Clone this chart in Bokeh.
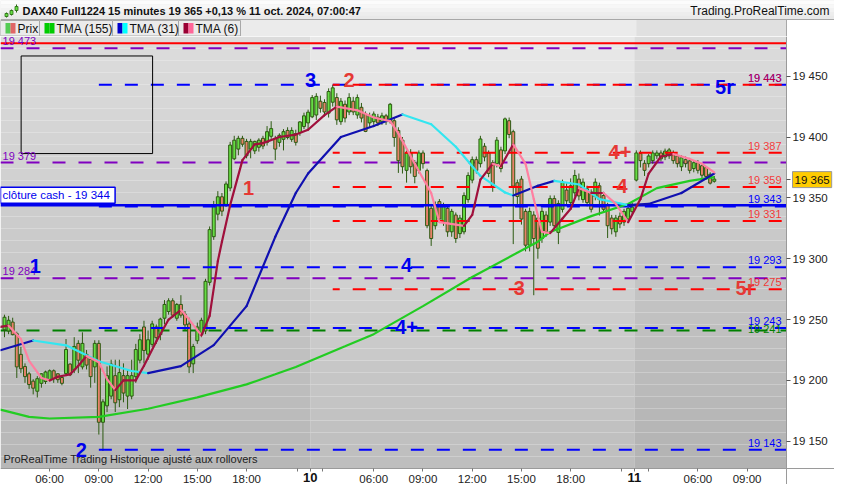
from bokeh.plotting import figure
from bokeh.models import Range1d, LinearAxis, FixedTicker, Label
from bokeh.layouts import column
from bokeh.embed import file_html
from bokeh.resources import INLINE
from bokeh.core.properties import value

FN = "Liberation Sans"
FONT = value(FN)

# ---------------- data ----------------
# bar index: 06:00 on day 9 = 0 ; 15-minute bars, sessions joined
d9_first_bar = -11
d9_open = [19242, 19241, 19247.5, 19238, 19221, 19211, 19205, 19199, 19191.5, 19198, 19199.5,
           19201, 19207.5, 19205, 19202, 19206, 19213, 19209, 19230, 19211.5, 19221, 19217, 19211.5,
           19230, 19166, 19179.5, 19187.5, 19203.5, 19184.5, 19203.5, 19187.5, 19187.5, 19203.5, 19217, 19243.5,
           19222, 19230, 19243.5, 19238, 19251.5, 19257, 19265, 19251.5, 19262, 19254, 19246, 19214,
           19233, 19238, 19241, 19281, 19318.5, 19337, 19350.5, 19345, 19358.5, 19382.5, 19390.5,
           19398.5, 19396, 19390.5, 19389, 19392, 19398.5, 19396, 19401,
           19398.5, 19396, 19398.5, 19405, 19398.5, 19402.5, 19404, 19409, 19412]
d9_high = [19254, 19253, 19251.5, 19240, 19227.5, 19214, 19207, 19201, 19203.5, 19206, 19208,
           19209, 19209, 19206, 19204, 19234, 19214, 19235.5, 19233, 19239.5, 19225, 19219.5, 19233,
           19233, 19184.5, 19211.5, 19217, 19217, 19217, 19214, 19209, 19217, 19230, 19238, 19249,
           19241, 19249, 19246, 19251.5, 19266, 19267.5, 19267.5, 19263.5, 19270, 19257, 19251.5, 19230,
           19247.5, 19251.5, 19283.5, 19326.5, 19347.5, 19355.5, 19354, 19363.5, 19396, 19401, 19401,
           19401, 19398.5, 19398.5, 19397, 19399, 19401, 19409, 19413,
           19401, 19403, 19406.5, 19408, 19408, 19406, 19413, 19420, 19422.5]
d9_low = [19235.5, 19238, 19237, 19202, 19206, 19198, 19193, 19188.5, 19186, 19194, 19197,
          19199, 19198, 19198, 19196, 19203.5, 19203.5, 19206, 19206, 19209, 19209, 19194, 19198,
          19155.5, 19142, 19174, 19184.5, 19174, 19178, 19182, 19176.5, 19184.5, 19198, 19214, 19214,
          19217, 19227.5, 19230, 19233, 19246, 19254, 19251.5, 19249, 19251.5, 19241, 19206, 19206,
          19230, 19235.5, 19238, 19278, 19315.5, 19331.5, 19335, 19342.5, 19355.5, 19381, 19385,
          19392, 19382.5, 19382.5, 19386, 19388, 19390, 19393, 19398.5,
          19381, 19392, 19389, 19398, 19396, 19393, 19401, 19406.5, 19406.5]
d9_close = [19251.5, 19249, 19238, 19211.5, 19210, 19203.5, 19197, 19194, 19201, 19205, 19206.5,
            19207.5, 19202, 19201, 19198, 19225, 19205, 19227.5, 19217, 19230, 19213, 19203.5, 19230,
            19166, 19182, 19203.5, 19213, 19182, 19206, 19190, 19203.5, 19203.5, 19225, 19233, 19225,
            19233, 19246, 19235.5, 19250, 19262, 19265, 19254, 19262, 19254, 19246, 19211.5, 19227.5,
            19243.5, 19249, 19281, 19323.5, 19342.5, 19350.5, 19339.5, 19361, 19393, 19397, 19398.5,
            19394.5, 19385, 19396, 19396, 19397, 19393, 19404, 19406.5,
            19390.5, 19401, 19404, 19400, 19405, 19396, 19412, 19417, 19420]

d10_first_bar = 64
d10_open = [19417, 19418.5, 19429, 19428, 19420, 19429, 19432, 19413, 19426.5, 19421,
            19429, 19418.5, 19424, 19418.5, 19412, 19413, 19416, 19413, 19417, 19413,
            19413, 19405, 19397, 19373, 19386.5, 19378.5, 19373, 19386.5, 19372, 19341,
            19327.5, 19346.5, 19330.5, 19341, 19322.5, 19335.5, 19321, 19322.5, 19349, 19365,
            19381, 19378.5, 19392, 19386.5, 19378.5, 19378.5, 19389, 19389, 19413, 19404,
            19362, 19365, 19338.5, 19311.5, 19335.5, 19333, 19317, 19335.5, 19330.5, 19349,
            19322, 19341, 19356, 19346.5, 19354.5, 19365, 19349, 19357, 19354.5, 19351.5,
            19359.5, 19351.5, 19343.5, 19333, 19322.5, 19334.5, 19330.5, 19333, 19339]
d10_high = [19434.5, 19436, 19434, 19431, 19440, 19443, 19436, 19432, 19430, 19436,
            19433, 19435, 19428, 19421, 19420, 19421, 19419, 19420, 19419, 19428,
            19416, 19408, 19400, 19389, 19390, 19381, 19389, 19389, 19374, 19345,
            19347, 19349, 19346, 19344, 19341, 19338, 19336, 19354.5, 19371, 19384,
            19384, 19401, 19395, 19389, 19381, 19400, 19392, 19416, 19416, 19406,
            19365, 19368, 19341, 19342, 19339, 19336, 19342, 19339, 19352, 19352,
            19348, 19365, 19362, 19366, 19373, 19370, 19366, 19360, 19357, 19366,
            19362.5, 19355, 19346, 19336, 19336, 19338, 19341, 19345, 19346]
d10_low = [19415.5, 19414, 19420, 19417, 19416, 19425, 19410, 19410, 19412, 19418,
           19418, 19415, 19412, 19404, 19408, 19410, 19409, 19410, 19410, 19411,
           19392, 19370.5, 19370, 19362.5, 19370, 19362, 19370, 19374, 19325, 19310.5,
           19324, 19330, 19327, 19318, 19318, 19313, 19317, 19320, 19346, 19362,
           19370, 19375, 19380, 19367, 19355, 19375, 19371, 19386, 19399, 19312,
           19345, 19328, 19306, 19306, 19270, 19300, 19313, 19318, 19327, 19324,
           19312, 19338, 19344, 19343, 19351, 19348, 19346, 19343, 19338, 19348,
           19335.5, 19338, 19317, 19320, 19318, 19325, 19327, 19330, 19336]
d10_close = [19432, 19433, 19424, 19421, 19437, 19440, 19414.5, 19429, 19416, 19432,
             19421, 19432, 19416, 19405, 19417, 19418.5, 19412, 19417, 19413, 19426.5,
             19400, 19381, 19376, 19386.5, 19376, 19368, 19386.5, 19378.5, 19327.5, 19317,
             19343.5, 19333, 19343.5, 19322.5, 19338.5, 19317, 19333, 19351.5, 19368, 19381,
             19373, 19398, 19384, 19370.5, 19359.5, 19397, 19374.5, 19414.5, 19402.5, 19360,
             19351.5, 19333, 19311.5, 19338.5, 19317, 19309, 19338.5, 19322.5, 19349, 19327.5,
             19345, 19362.5, 19348, 19359.5, 19368, 19352, 19362.5, 19346.5, 19341, 19362.5,
             19349, 19341, 19327.5, 19325, 19333, 19329, 19338.5, 19341, 19342]

d11_first_bar = 143
d11_open = [19365, 19386, 19378, 19378.5, 19381, 19385, 19386.5, 19384, 19385, 19386.5,
            19384, 19376, 19381, 19380, 19374.5, 19378.5, 19376, 19374.5, 19369, 19364]
d11_high = [19389, 19389, 19381, 19386, 19389, 19389, 19389, 19390.5, 19391, 19389,
            19386, 19385, 19384, 19382, 19381, 19381, 19378, 19376, 19371, 19368]
d11_low = [19363.5, 19375, 19368, 19375, 19378, 19382, 19380, 19381, 19382, 19378,
           19375, 19372, 19375, 19370, 19371, 19370, 19366, 19365, 19361, 19362.5]
d11_close = [19386.5, 19381, 19373, 19384, 19386.5, 19386.5, 19382.5, 19388, 19389, 19381,
             19378.5, 19382.5, 19378.5, 19373, 19378.5, 19373, 19369, 19368, 19362.5, 19365]

opens = d9_open + d10_open + d11_open
highs = d9_high + d10_high + d11_high
lows = d9_low + d10_low + d11_low
closes = d9_close + d10_close + d11_close
bars = (list(range(d9_first_bar, d9_first_bar + len(d9_close)))
        + list(range(d10_first_bar, d10_first_bar + len(d10_close)))
        + list(range(d11_first_bar, d11_first_bar + len(d11_close))))

tma155_bar = [-12, -5, 0, 12, 24, 36, 48, 55, 60, 72, 79, 91, 103, 119, 122, 132, 141, 148, 156, 162]
tma155_val = [19176, 19170, 19168.7, 19170, 19176.7, 19186, 19196.7, 19205, 19211, 19228, 19238,
              19261, 19285, 19314, 19322, 19335, 19345, 19358, 19364, 19367]
tma31_bar = [-12, -4, 4, 12, 20, 24, 32, 40, 48, 55, 60, 63, 71, 79, 86, 93, 99, 105, 111, 113,
             119, 123, 127, 129, 134, 141, 146, 154, 162]
tma31_val = [19224.8, 19232.8, 19228.8, 19215.7, 19207.7, 19206, 19211.7, 19229, 19261, 19318,
             19354, 19370, 19400, 19409, 19418.5, 19410.5, 19392, 19368, 19354.4, 19352,
             19360, 19364, 19362, 19361, 19349, 19344, 19345, 19354, 19370]
tma6_bar = [-12, -10, -7, -5, -2, 0, 2, 5, 7, 9, 12, 14, 16, 18, 21, 23, 26, 29, 32, 34, 37, 39,
            41, 42, 44, 47, 50, 52, 56, 60, 63, 67, 70, 75, 79, 83, 85, 89, 93, 95, 97, 99, 101,
            103, 105, 108, 110, 113, 116, 118, 120, 122, 125, 127, 129, 132, 135, 138, 141, 144,
            146, 149, 152, 156, 159, 162]
tma6_val = [19244, 19245, 19234, 19216, 19202, 19200, 19203, 19205, 19212, 19220, 19215, 19201,
            19192, 19200, 19200, 19212, 19232, 19250, 19258, 19250, 19237, 19253, 19298, 19314,
            19344, 19381, 19394, 19395, 19400, 19402, 19406, 19418, 19425, 19422, 19416, 19413,
            19403, 19378, 19354, 19330, 19329, 19328, 19327, 19336, 19365, 19378, 19376, 19394,
            19378, 19349, 19322, 19321, 19333, 19341, 19358, 19354, 19354, 19345, 19330, 19349,
            19370, 19384, 19386, 19382, 19378, 19371]

blue_levels = [19443, 19343, 19293, 19243, 19143]
blue_texts = ["19 443", "19 343", "19 293", "19 243", "19 143"]
red_levels = [19443, 19387, 19359, 19331, 19275]
red_texts = ["19 443", "19 387", "19 359", "19 331", "19 275"]
purple_levels = [19473, 19379, 19284]
purple_texts = ["19 473", "19 379", "19 284"]
green_levels = [19241]
green_texts = ["19 241"]
red_solid_level = 19477
cash_close = 19344
last_price = 19365
blue_start_bar = 12
red_start_bar = 69

price_ticks = [19150, 19200, 19250, 19300, 19350, 19400, 19450]
time_ticks = [0, 12, 24, 36, 48, 79, 91, 103, 115, 127, 158, 170]
time_labels = ["06:00", "09:00", "12:00", "15:00", "18:00", "06:00", "09:00", "12:00",
               "15:00", "18:00", "06:00", "09:00"]
day_ticks = [63.5, 142.5]
day_labels = ["10", "11"]
minor_time_ticks = [60.5, 66.5, 139.5, 146]

wave_text = ["3", "2", "5r", "1", "4+", "4", "4", "4+", "3", "5r", "1", "2"]
wave_bar = [63.6, 73, 164.5, 48.5, 139, 139.5, 87, 87, 114.5, 169.5, -3.5, 7.7]
wave_price = [19447, 19447, 19441, 19358, 19388, 19360, 19295, 19244, 19276, 19276, 19294, 19143]
wave_color = ["#0000ee", "#e53935", "#0000ee", "#e53935", "#e53935", "#e53935", "#0000ee",
              "#0000ee", "#e53935", "#e53935", "#0000ee", "#0000ee"]

drawn_box = [-6.94, 25.1, 19466.6, 19386.4]  # left, right, top, bottom

# ---------------- layout constants ----------------
W = 834
HDR_H = 36
MAIN_H = 448
CHART_W = 786
CHART_H = 432
X0, X1 = -11.97, 179.6
Y0, Y1 = 19127.6, 19482.6
XPP = (X1 - X0) / CHART_W
YPP = (Y1 - Y0) / CHART_H
XR = X0 + W * XPP
YB = Y1 - MAIN_H * YPP

# ---------------- header figure ----------------
hdr = figure(width=W, height=HDR_H, x_range=Range1d(0, W), y_range=Range1d(HDR_H, 0),
             toolbar_location=None, output_backend="svg", min_border=0)
hdr.axis.visible = False
hdr.grid.visible = False
hdr.outline_line_color = None
hdr.background_fill_color = "#ebebeb"
hdr.border_fill_color = "#ebebeb"
tb = ["#fcfcfc", "#f7f7f7", "#f2f2f2", "#ededed", "#e9e9e9"]
for k, c in enumerate(tb):
    hdr.quad(left=0, right=W, top=k * 19 / 5, bottom=(k + 1) * 19 / 5, fill_color=c, line_color=None)
hdr.segment(x0=0, y0=19, x1=W, y1=19, line_color="#a8a8a8", line_width=1)
hdr.quad(left=0, right=636, top=19.5, bottom=HDR_H, fill_color="#ebebeb", line_color=None)
hdr.quad(left=636, right=CHART_W, top=19.5, bottom=HDR_H, fill_color="#e0e0e0", line_color=None)
hdr.quad(left=CHART_W, right=W, top=19.5, bottom=HDR_H, fill_color="#ffffff", line_color=None)
hdr.segment(x0=CHART_W, y0=19.5, x1=CHART_W, y1=HDR_H, line_color="#a8a8a8")
hdr.segment(x0=[6, 11, 16], y0=[12, 9, 4], x1=[6, 11, 16], y1=[17, 15, 12], line_color="#2a6a10", line_width=1)
hdr.quad(left=[4.5, 9.5, 14.5], right=[7.5, 12.5, 17.5], top=[13, 10, 6], bottom=[16, 14, 10],
         fill_color="#66dd44", line_color="#2a6a10", line_width=0.8)
hdr.text(x=[22], y=[10], text=["DAX40 Full1224 15 minutes 19 365 +0,13 % 11 oct. 2024, 07:00:47"],
         text_font=FONT, text_font_size="11px", text_font_style="bold", text_baseline="middle",
         text_color="#111111")
hdr.text(x=[W - 5], y=[10], text=["Trading.ProRealTime.com"], text_font=FONT, text_font_size="12px",
         text_align="right", text_baseline="middle", text_color="#111111")
items_l = [0, 39, 112, 178]
items_r = [39, 112, 178, 240]
items_t = ["Prix", "TMA (155)", "TMA (31)", "TMA (6)"]
icon_a = ["#55cc55", "#00cc00", "#0000cc", "#990033"]
icon_b = ["#e06666", "#00cc00", "#00ffff", "#ff6699"]
hdr.quad(left=items_l, right=items_r, top=20, bottom=HDR_H - 0.5, fill_color="#ebebeb",
         line_color="#a8a8a8", line_width=1)
il = [l + 5 for l in items_l]
hdr.quad(left=il, right=[v + 5 for v in il], top=22.5, bottom=33, fill_color=icon_a, line_color=None)
hdr.quad(left=[v + 5 for v in il], right=[v + 10 for v in il], top=22.5, bottom=33, fill_color=icon_b,
         line_color=None)
hdr.text(x=[v + 12 for v in il], y=[28] * 4, text=items_t, text_font=FONT, text_font_size="12px",
         text_baseline="middle", text_color="#111111")

# ---------------- main figure ----------------
p = figure(width=W, height=MAIN_H, x_range=Range1d(X0, XR), y_range=Range1d(YB, Y1),
           toolbar_location=None, output_backend="svg", x_axis_location=None, y_axis_location=None,
           min_border=0)
p.grid.visible = False
p.outline_line_color = None
p.border_fill_color = "white"
p.background_fill_color = "white"


def shade(c0, c1, t):
    a = [int(c0[i:i + 2], 16) for i in (1, 3, 5)]
    b = [int(c1[i:i + 2], 16) for i in (1, 3, 5)]
    return "#%02x%02x%02x" % tuple(int(round(a[k] + (b[k] - a[k]) * t)) for k in range(3))


day_left = [X0, 63.5, 142.5]
day_right = [63.5, 142.5, X1]
day_top_col = ["#dddddd", "#e9e9e9", "#dcdcdc"]
day_bot_col = ["#b6b6b6", "#bdbdbd", "#b2b2b2"]
NB = 36
for d in range(3):
    for k in range(NB):
        t0 = Y1 - (Y1 - Y0) * k / NB
        t1 = Y1 - (Y1 - Y0) * (k + 1) / NB
        p.quad(left=day_left[d], right=day_right[d], top=t0, bottom=t1,
               fill_color=shade(day_top_col[d], day_bot_col[d], (k + 0.5) / NB), line_color=None)

p.segment(x0=[X0] * len(purple_levels), y0=purple_levels, x1=[X1] * len(purple_levels), y1=purple_levels,
          line_color="#8000c0", line_width=2, line_dash="13 13")
p.segment(x0=[X0], y0=green_levels, x1=[X1], y1=green_levels, line_color="#008000", line_width=2,
          line_dash="13 13")
p.segment(x0=[X0], y0=[red_solid_level], x1=[X1], y1=[red_solid_level], line_color="#ff0000", line_width=2)

up = [c >= o for o, c in zip(opens, closes)]
p.segment(x0=bars, y0=lows, x1=bars, y1=highs, line_color="#2d5a12", line_width=1)
p.vbar(x=bars, width=0.72, top=[max(o, c) + 0.4 for o, c in zip(opens, closes)],
       bottom=[min(o, c) - 0.4 for o, c in zip(opens, closes)],
       fill_color=["#66dd44" if u else "#e8826a" for u in up], line_color="#2d5a12", line_width=1)

p.segment(x0=[blue_start_bar] * len(blue_levels), y0=blue_levels, x1=[X1] * len(blue_levels), y1=blue_levels,
          line_color="#0000ff", line_width=2, line_dash="13 13")
p.segment(x0=[red_start_bar] * len(red_levels), y0=red_levels, x1=[X1] * len(red_levels), y1=red_levels,
          line_color="#ff0000", line_width=2, line_dash="13 13", line_dash_offset=6)
p.segment(x0=[X0], y0=[cash_close], x1=[X1], y1=[cash_close], line_color="#0000ee", line_width=2.5)


def two_color(xs, ys, c_up, c_dn):
    cols = [c_up if ys[k + 1] >= ys[k] else c_dn for k in range(len(xs) - 1)]
    p.segment(x0=xs[:-1], y0=ys[:-1], x1=xs[1:], y1=ys[1:], line_color=cols, line_width=2.2,
              line_cap="round")


p.line(tma155_bar, tma155_val, line_color="#22cc22", line_width=2.2)
two_color(tma31_bar, tma31_val, "#1010b0", "#33e6f0")
two_color(tma6_bar, tma6_val, "#a0103c", "#ff7fa0")

p.quad(left=drawn_box[0], right=drawn_box[1], top=drawn_box[2], bottom=drawn_box[3],
       fill_color=None, line_color="black", line_width=1)

lab_x = X1 - 1.2
p.text(x=[lab_x] * len(blue_levels), y=blue_levels, text=blue_texts,
       text_color="#0000ff", text_font=FONT, text_font_size="11px", text_align="right",
       text_baseline="bottom", y_offset=-1)
p.text(x=[lab_x] * len(red_levels), y=red_levels, text=red_texts,
       text_color="#ff0000", text_alpha=0.75, text_font=FONT, text_font_size="11px", text_align="right",
       text_baseline="bottom", y_offset=-1)
p.text(x=[lab_x], y=green_levels, text=green_texts, text_color="#008000", text_font=FONT,
       text_font_size="11px", text_align="right", text_baseline="bottom", y_offset=4)
p.text(x=[X0 + 0.5] * 3, y=purple_levels, text=purple_texts, text_color="#8000c0",
       text_font=FONT, text_font_size="11px", text_align="left", text_baseline="bottom", y_offset=-1)

p.text(x=wave_bar, y=wave_price, text=wave_text, text_color=wave_color, text_font=FONT,
       text_font_size="20px", text_font_style="bold", text_align="center", text_baseline="middle")

p.add_layout(Label(x=X0, y=cash_close, text="clôture cash -  19 344", text_font=FN,
                   text_font_size="11.5px", text_color="#0000ee", background_fill_color="white",
                   border_line_color="#0000ee", border_line_width=1.5, text_baseline="bottom",
                   padding=2, y_offset=2))
p.add_layout(Label(x=X0 + 3 * XPP, y=Y0 + 4 * YPP,
                   text="ProRealTime Trading  Historique ajusté aux rollovers", text_font=FN,
                   text_font_size="11px", text_color="#222222"))

# ---- axes (real Bokeh axes pinned at the chart edges) ----
xa = LinearAxis(fixed_location=Y0, ticker=FixedTicker(ticks=time_ticks + day_ticks + minor_time_ticks))
ov = {t: l for t, l in zip(time_ticks, time_labels)}
for t in day_ticks + minor_time_ticks:
    ov[t] = ""
xa.major_label_overrides = ov
xa.axis_line_color = "#9a9a9a"
xa.major_tick_line_color = "#777777"
xa.major_tick_out = 3
xa.major_tick_in = 0
xa.minor_tick_out = 0
xa.minor_tick_in = 0
xa.major_label_standoff = 1
xa.major_label_text_font = FN
xa.major_label_text_font_size = "11.5px"
xa.major_label_text_color = "#222222"
p.add_layout(xa, "below")
p.text(x=day_ticks, y=[Y0 - 9 * YPP] * 2, text=day_labels, text_font=FONT, text_font_size="13px",
       text_font_style="bold", text_color="#111111", text_align="center", text_baseline="middle")

ya = LinearAxis(fixed_location=X1, ticker=FixedTicker(ticks=price_ticks + [last_price]),
                major_label_overrides={**{t: f"{t // 1000} {t % 1000:03d}" for t in price_ticks},
                                       last_price: ""})
ya.axis_line_color = "#9a9a9a"
ya.major_tick_line_color = "#555555"
ya.major_tick_out = 4
ya.major_tick_in = 0
ya.minor_tick_out = 0
ya.minor_tick_in = 0
ya.major_label_standoff = 2
ya.major_label_text_font = FN
ya.major_label_text_font_size = "11.5px"
ya.major_label_text_color = "#222222"
p.add_layout(ya, "right")

p.add_layout(Label(x=X1 + 6 * XPP, y=last_price, text="19 365", text_font=FN,
                   text_font_size="11.5px", text_color="#111111", background_fill_color="#ffcc00",
                   border_line_color="#999999", text_baseline="middle", padding=2))

layout = column(hdr, p, spacing=0)
open("out.html", "w").write(file_html(layout, INLINE))
